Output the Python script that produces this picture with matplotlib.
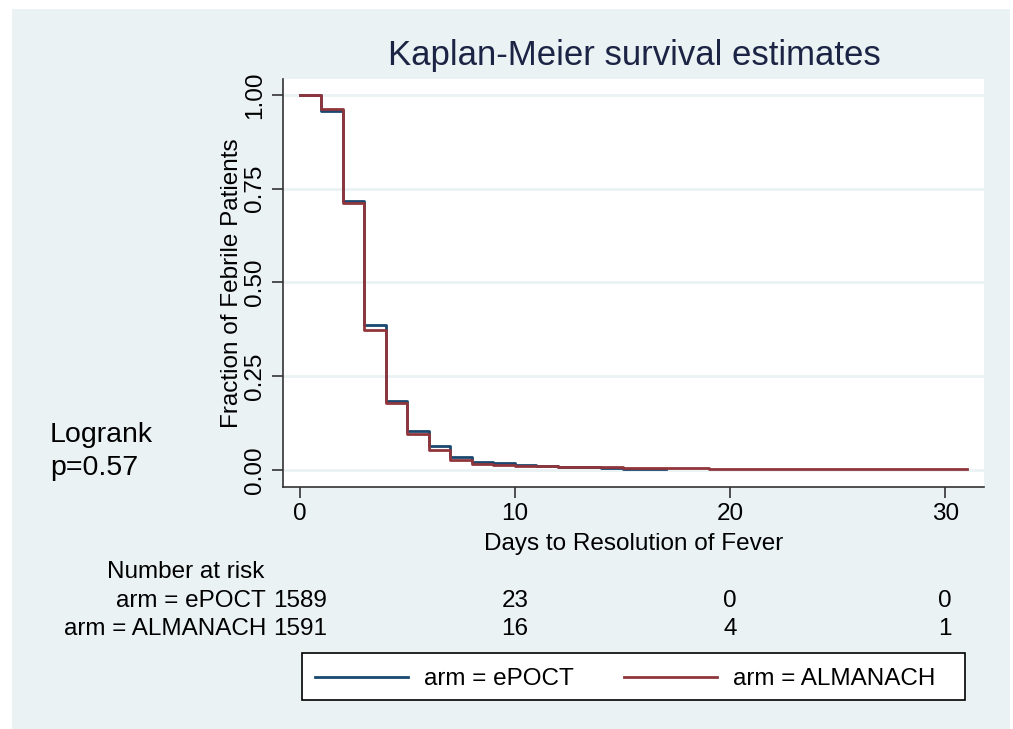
import matplotlib
matplotlib.use('Agg')
import matplotlib.pyplot as plt
from matplotlib.patches import Rectangle
from matplotlib.lines import Line2D

plt.rcParams['font.family'] = ['Liberation Sans', 'DejaVu Sans']

# 数据
days_epoct = [0, 1, 2, 3, 4, 5, 6, 7, 8, 9, 10, 11, 12, 14, 15, 16, 17]
surv_epoct = [1.0, 0.956, 0.716, 0.386, 0.183, 0.105, 0.065, 0.036, 0.022, 0.018,
              0.014, 0.012, 0.007, 0.005, 0.004, 0.002, 0.002]
days_almanach = [0, 1, 2, 3, 4, 5, 6, 7, 8, 9, 10, 11, 12, 13, 15, 19, 21, 28, 31]
surv_almanach = [1.0, 0.963, 0.712, 0.374, 0.180, 0.096, 0.054, 0.028, 0.016, 0.013,
                 0.012, 0.010, 0.009, 0.007, 0.006, 0.004, 0.003, 0.002, 0.002]

risk_times = [0, 10, 20, 30]
risk_epoct = [1589, 23, 0, 0]
risk_almanach = [1591, 16, 4, 1]

W, H = 1013, 729
bg = '#eaf2f3'
navy = '#1a476f'
maroon = '#90353b'
fs = 17.5


def fx(px):
    return px / W


def fy(py):
    return 1 - py / H


fig = plt.figure(figsize=(W / 100, H / 100), dpi=100)
fig.patch.set_facecolor('white')
fig.patches.append(Rectangle((fx(12), 0), (1010 - 12) / W, (729 - 9) / H,
                             transform=fig.transFigure, facecolor=bg,
                             edgecolor='none', zorder=-10))

# 绘图区
ax = fig.add_axes([fx(283), fy(487), (984 - 283) / W, (487 - 79) / H])
ax.set_facecolor('white')
ax.set_xlim(-0.78, 31.8)
ax.set_ylim(-0.045, 1.042)

for y in [0, 0.25, 0.5, 0.75, 1.0]:
    ax.axhline(y, color=bg, lw=2, zorder=0)

ax.step(days_epoct, surv_epoct, where='post', color=navy, lw=2)
ax.step(days_almanach, surv_almanach, where='post', color=maroon, lw=2)

for s in ['top', 'right']:
    ax.spines[s].set_visible(False)
for s in ['left', 'bottom']:
    ax.spines[s].set_color('#333333')
    ax.spines[s].set_linewidth(1.2)

ax.set_xticks([0, 10, 20, 30])
ax.set_yticks([0, 0.25, 0.5, 0.75, 1.0])
ax.set_yticklabels(['0.00', '0.25', '0.50', '0.75', '1.00'], rotation=90, va='center')
ax.tick_params(axis='both', length=8, width=1.2, color='#333333', labelsize=fs)
ax.tick_params(axis='y', pad=4)
ax.set_xlabel('Days to Resolution of Fever', fontsize=fs, labelpad=6)
ax.set_ylabel('Fraction of Febrile Patients', fontsize=fs, labelpad=1)

# 标题
fig.text(fx(634), fy(56), 'Kaplan-Meier survival estimates', fontsize=25,
         color='#1c2445', ha='center', va='center')

# Logrank
fig.text(fx(50), fy(435), 'Logrank', fontsize=20.5, ha='left', va='center')
fig.text(fx(50), fy(468), 'p=0.57', fontsize=20.5, ha='left', va='center')

# 风险人数表
fig.text(fx(186), fy(572), 'Number at risk', fontsize=fs, ha='center', va='center')
for row_y, name, counts in [(601, 'arm = ePOCT', risk_epoct),
                            (629, 'arm = ALMANACH', risk_almanach)]:
    fig.text(fx(266), fy(row_y), name, fontsize=fs, ha='right', va='center')
    for t, n in zip(risk_times, counts):
        xf = fig.transFigure.inverted().transform(ax.transData.transform((t, 0)))[0]
        fig.text(xf, fy(row_y), str(n), fontsize=fs, ha='center', va='center')

# 图例
fig.patches.append(Rectangle((fx(302), fy(700)), (965 - 302) / W, 47 / H,
                             transform=fig.transFigure, facecolor='white',
                             edgecolor='black', lw=1.2))
for x0, color, label in [(315, navy, 'arm = ePOCT'), (624, maroon, 'arm = ALMANACH')]:
    fig.lines.append(Line2D([fx(x0), fx(x0 + 93)], [fy(677), fy(677)],
                            transform=fig.transFigure, color=color, lw=2))
    fig.text(fx(x0 + 109), fy(679), label, fontsize=fs, ha='left', va='center')

fig.savefig('out.png', dpi=100, facecolor=fig.get_facecolor())
